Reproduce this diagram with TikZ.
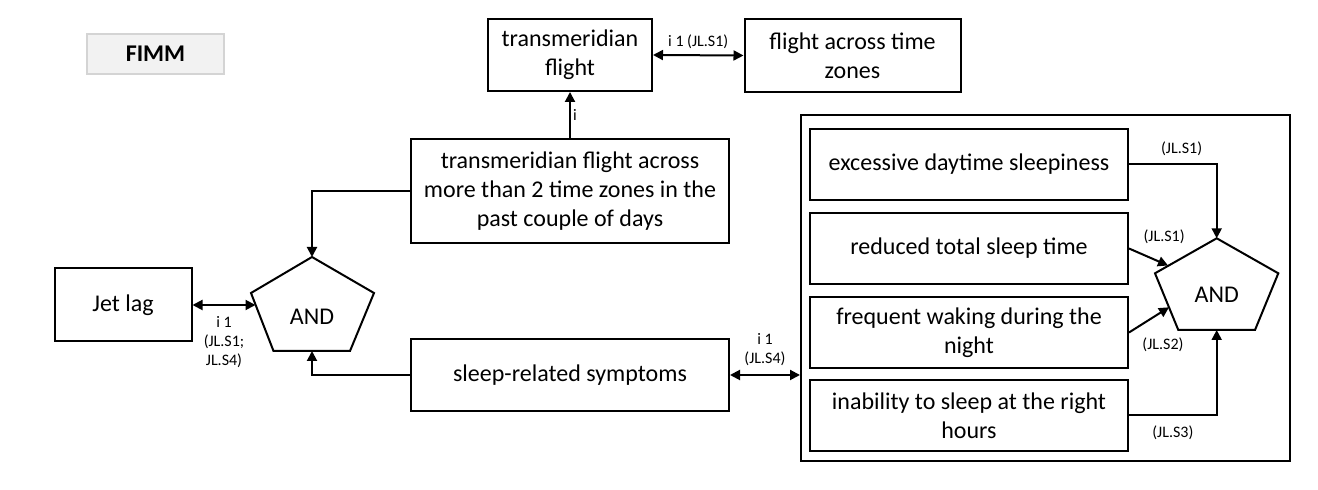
\documentclass[tikz,border=0pt]{standalone}
\usepackage{fontspec}
\setmainfont{Carlito}
\usetikzlibrary{arrows.meta,fit}
\definecolor{tagfill}{HTML}{F2F2F2}
\definecolor{tagline}{HTML}{D4D4D4}
\begin{document}
\begin{tikzpicture}[x=0.5pt,y=-0.5pt,
    box/.style={draw, line width=1pt, align=center, inner sep=2pt,
        font=\fontsize{12}{14.6}\selectfont},
    lbl/.style={font=\fontsize{8}{9.6}\selectfont, inner sep=1pt, align=center},
    link/.style={line width=1pt},
    >={Triangle[length=5pt,width=5pt]}]
    \useasboundingbox (0,0) rectangle (1318,490);

    % Title tag
    \node[box, draw=tagline, fill=tagfill, minimum width=68.5pt, minimum height=20pt,
        font=\fontsize{12}{14.6}\selectfont\bfseries] (fimm) at (155.5,54) {FIMM};

    % Boxes of the left part
    \node[box, minimum width=82pt, minimum height=36pt] (tf) at (570,55) {transmeridian\\flight};
    \node[box, minimum width=108pt, minimum height=36.5pt] (fat) at (852.5,55.5) {flight across time\\zones};
    \node[box, minimum width=159pt, minimum height=52pt] (big) at (570,191)
        {transmeridian flight across\\more than 2 time zones in the\\past couple of days};
    \node[box, minimum width=68.5pt, minimum height=36.5pt] (jl) at (123,305) {Jet lag};
    \node[box, minimum width=159pt, minimum height=36pt] (srs) at (570,375) {sleep-related symptoms};

    % Left AND gate
    \coordinate (andL-t) at (312,257);
    \coordinate (andL-r) at (374,293);
    \coordinate (andL-br) at (350,351);
    \coordinate (andL-bl) at (273.5,351);
    \coordinate (andL-l) at (251,293);
    \coordinate (andL-s) at (312,351);
    \coordinate (andL-w) at (255.5,305);
    \draw[link] (andL-t) -- (andL-r) -- (andL-br) -- (andL-bl) -- (andL-l) -- cycle;
    \node[font=\fontsize{12}{14.6}\selectfont] (andL) at (312,317) {AND};

    % Group of symptoms
    \node[draw, line width=1pt, inner sep=0pt, fit={(801,115) (1290,461)}] (group) {};
    \node[box, minimum width=159pt, minimum height=35.5pt] (b1) at (969,164.5) {excessive daytime sleepiness};
    \node[box, minimum width=159pt, minimum height=35.5pt] (b2) at (969,248.5) {reduced total sleep time};
    \node[box, minimum width=159pt, minimum height=35.5pt] (b3) at (969,332.5) {frequent waking during the\\night};
    \node[box, minimum width=159pt, minimum height=35.5pt] (b4) at (969,415.5) {inability to sleep at the right\\hours};

    % Right AND gate
    \coordinate (andR-t) at (1216.7,238.3);
    \coordinate (andR-r) at (1278.3,273.3);
    \coordinate (andR-br) at (1255,330);
    \coordinate (andR-bl) at (1178.3,330);
    \coordinate (andR-l) at (1155,273.3);
    \coordinate (andR-s) at (1216.7,330);
    \coordinate (andR-a) at (1168,265.5);
    \coordinate (andR-c) at (1169,307.3);
    \draw[link] (andR-t) -- (andR-r) -- (andR-br) -- (andR-bl) -- (andR-l) -- cycle;
    \node[font=\fontsize{12}{14.6}\selectfont] (andR) at (1216.7,295) {AND};

    % Connectors
    \draw[link,<->] (tf.east) -- (fat.west) node[lbl, midway, above=1.7pt] {i 1 (JL.S1)};
    \draw[link,->] (big.north) -- (tf.south) node[lbl, midway, right] {i};
    \draw[link,->] (big.west) -| (andL-t);
    \draw[link,->] (srs.west) -| (andL-s);
    \draw[link,<->] (jl.east) -- (andL-w) node[lbl, midway, below=4pt] {i 1\\(JL.S1;\\JL.S4)};
    \draw[link,<->] (srs.east) -- (group.west |- srs.east) node[lbl, midway, above=3pt] {i 1\\(JL.S4)};
    \draw[link,->] (b1.east) -| (andR-t) node[lbl, pos=0.3, above=3pt] {(JL.S1)};
    \draw[link,->] (b2.east) -- (andR-a) node[lbl, pos=0.9, above=8.5pt] {(JL.S1)};
    \draw[link,->] (b3.east) -- (andR-c) node[lbl, pos=0.85, below=12pt] {(JL.S2)};
    \draw[link,->] (b4.east) -| (andR-s) node[lbl, pos=0.25, below=3.5pt] {(JL.S3)};
\end{tikzpicture}
\end{document}
